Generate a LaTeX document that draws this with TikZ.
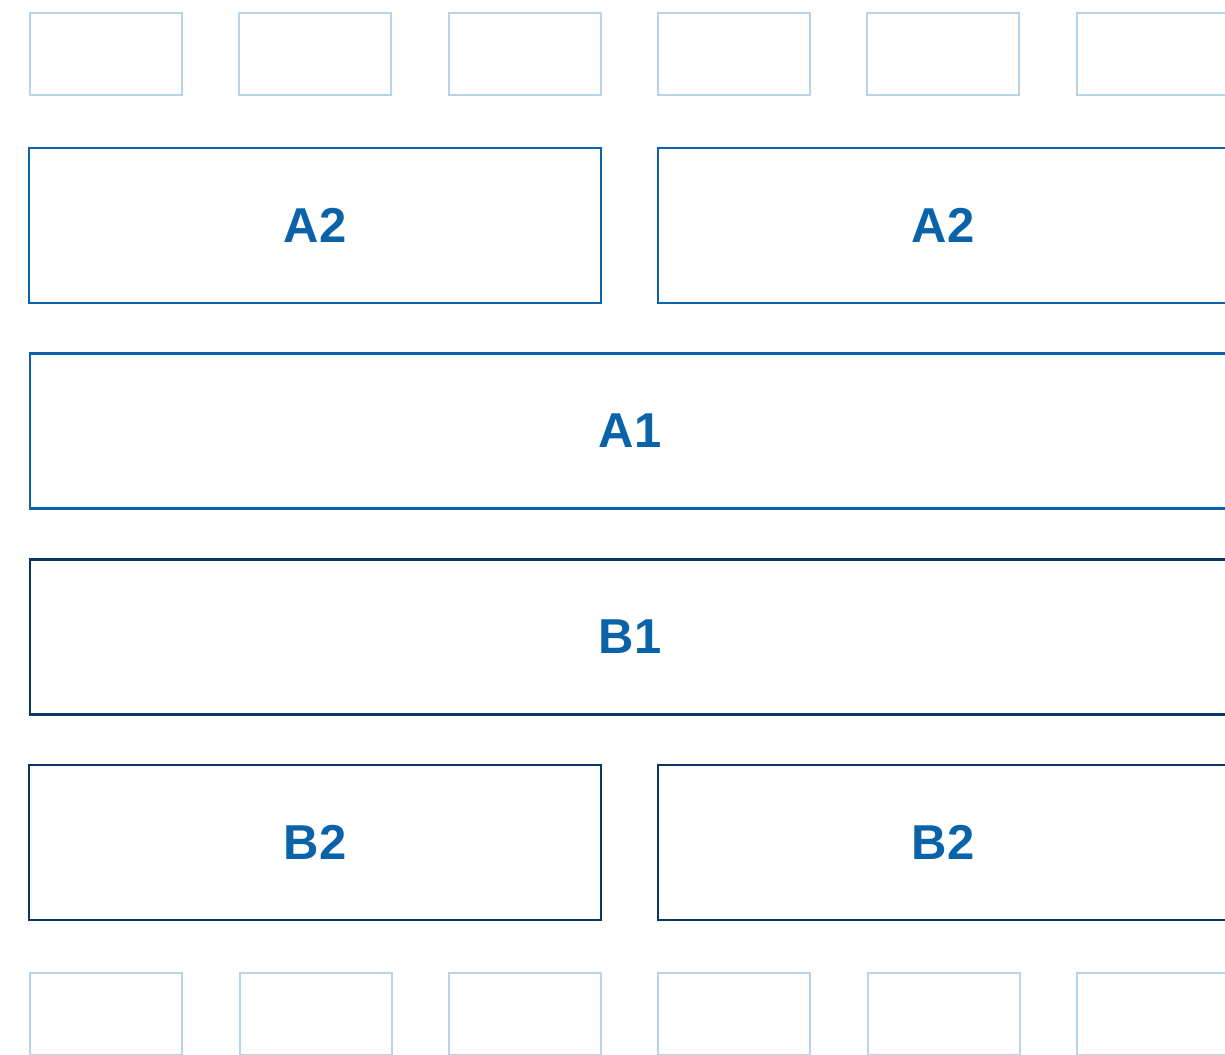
\documentclass[tikz,border=0pt]{standalone}
\usepackage{fontspec}
\setmainfont{Liberation Sans}
\definecolor{lightb}{HTML}{B8D4E8}
\definecolor{midb}{HTML}{0A62A8}
\definecolor{navy}{HTML}{0B3565}
\definecolor{txtb}{HTML}{0A62A8}
\begin{document}
\begin{tikzpicture}[x=1pt,y=-1pt,
  cell/.style={draw=lightb,line width=2.4pt,minimum width=152pt,minimum height=82pt,inner sep=0pt},
  bbox/.style={line width=2.6pt,minimum height=155pt,inner sep=0pt,font=\fontsize{49}{52}\selectfont\bfseries,text=txtb},
  abox/.style={bbox,draw=midb},
  nbox/.style={bbox,draw=navy}]
\useasboundingbox (0,0) rectangle (1225,1054);
\clip (0,0) rectangle (1225,1054);
% top row of light cells
\node[cell] (t1) at (106,54) {};
\node[cell] (t2) at (315,54) {};
\node[cell] (t3) at (525,54) {};
\node[cell] (t4) at (734,54) {};
\node[cell] (t5) at (943,54) {};
\node[cell] (t6) at (1153,54) {};
% A2 row
\node[abox,minimum width=572pt] (a2l) at (315,225.5) {A2};
\node[abox,minimum width=570pt] (a2r) at (943,225.5) {A2};
% A1
\node[abox,minimum width=1200pt] (a1) at (630,431) {A1};
% B1
\node[nbox,minimum width=1200pt] (b1) at (630,637) {B1};
% B2 row
\node[nbox,minimum width=572pt] (b2l) at (315,842.5) {B2};
\node[nbox,minimum width=570pt] (b2r) at (943,842.5) {B2};
% bottom row of light cells
\node[cell] (u1) at (106,1014) {};
\node[cell] (u2) at (316,1014) {};
\node[cell] (u3) at (525,1014) {};
\node[cell] (u4) at (734,1014) {};
\node[cell] (u5) at (944,1014) {};
\node[cell] (u6) at (1153,1014) {};
\end{tikzpicture}
\end{document}
